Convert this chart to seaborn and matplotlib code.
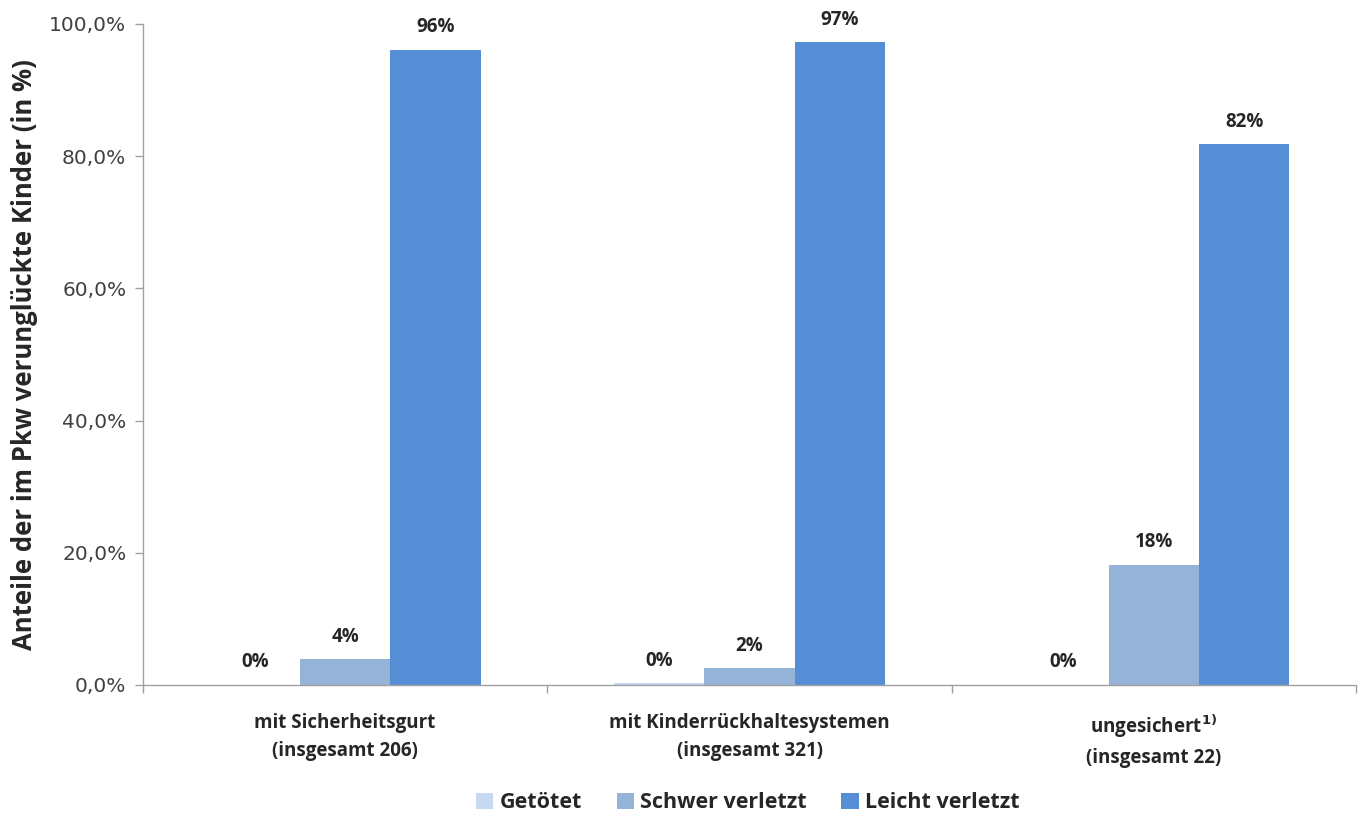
import matplotlib
matplotlib.use("Agg")
import matplotlib.pyplot as plt
import seaborn as sns
import pandas as pd
import numpy as np

categories = ["mit Sicherheitsgurt\n(insgesamt 206)",
              "mit Kinderrückhaltesystemen\n(insgesamt 321)",
              "ungesichert$^{\\mathbf{1)}}$\n(insgesamt 22)"]
series = ["Getötet", "Schwer verletzt", "Leicht verletzt"]
getoetet = [0.0, 0.3, 0.0]
schwer = [3.9, 2.5, 18.2]
leicht = [96.1, 97.2, 81.8]
labels_getoetet = ["0%", "0%", "0%"]
labels_schwer = ["4%", "2%", "18%"]
labels_leicht = ["96%", "97%", "82%"]
yticks = [0, 20, 40, 60, 80, 100]
colors = ["#C6D9F1", "#95B3D7", "#558ED5"]

sns.set_theme(style="white")
plt.rcParams['font.family'] = ['Open Sans', 'DejaVu Sans']

rows = []
for s, vals in zip(series, [getoetet, schwer, leicht]):
    for c, v in zip(categories, vals):
        rows.append({"cat": c, "series": s, "val": v})
df = pd.DataFrame(rows)

fig = plt.figure(figsize=(13.62, 8.18), dpi=100)
ax = fig.add_axes([0.105, 0.1626, 0.8906, 0.8081])
sns.barplot(data=df, x="cat", y="val", hue="series", hue_order=series,
            order=categories, palette=colors, saturation=1, width=0.67,
            ax=ax, errorbar=None, linewidth=0)

all_labels = [labels_getoetet, labels_schwer, labels_leicht]
for cont, labs in zip(ax.containers, all_labels):
    ax.bar_label(cont, labels=labs, padding=9, fontsize=13.5,
                 fontweight="bold", color="#262626")

ax.set_ylim(0, 100)
ax.set_xlim(-0.5, 2.5)
ax.set_yticks(yticks)
ax.set_yticklabels([f"{t:.1f}%".replace(".", ",") for t in yticks])
ax.set_xticks(range(3))
ax.set_xticklabels(categories, fontsize=13.5, fontweight="bold", color="#262626",
                   linespacing=1.55)
ax.tick_params(axis="x", which="major", length=0, pad=20)
ax.set_xticks([-0.5, 0.5, 1.5, 2.5], minor=True)
ax.tick_params(axis="x", which="minor", length=6, color="#A0A0A0", width=1, direction="out", bottom=True)
ax.tick_params(axis="y", length=6, color="#A0A0A0", width=1, direction="out", left=True, pad=6)
for lbl in ax.get_yticklabels():
    lbl.set_fontfamily("DejaVu Sans")
    lbl.set_fontsize(14.5)
    lbl.set_color("#404040")
ax.set_xlabel("")
ax.set_ylabel("Anteile der im Pkw verunglückte Kinder (in %)", fontsize=18.5,
              fontweight="bold", color="#262626", labelpad=8)
for sp in ["top", "right"]:
    ax.spines[sp].set_visible(False)
for sp in ["left", "bottom"]:
    ax.spines[sp].set_color("#A0A0A0")
    ax.spines[sp].set_linewidth(1)

handles, lbls = ax.get_legend_handles_labels()
ax.legend(handles, lbls, loc="center", bbox_to_anchor=(748/1362, 1 - 803/818),
          bbox_transform=fig.transFigure, ncol=3, frameon=False,
          prop={"weight": "bold", "size": 15.5}, handlelength=0.8, handleheight=0.8,
          handletextpad=0.3, columnspacing=1.6)

fig.savefig("out.png", dpi=100)
